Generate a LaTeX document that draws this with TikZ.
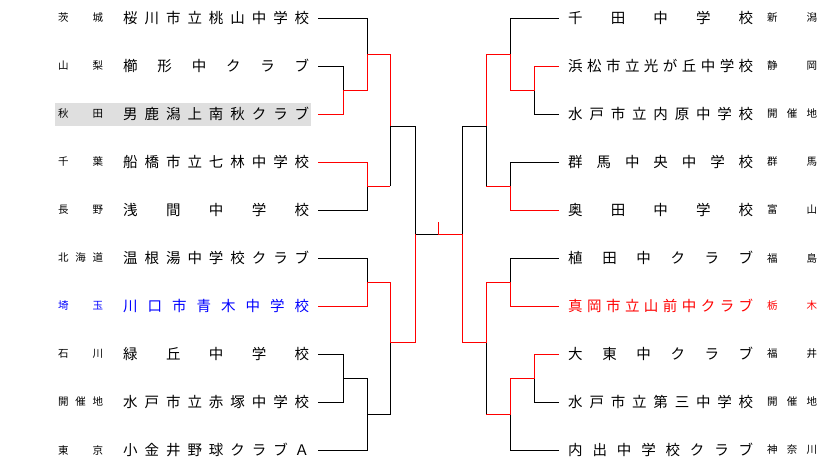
\documentclass[tikz,border=0pt]{standalone}
\usepackage{fontspec}
\setmainfont{Noto Sans CJK JP}
\usetikzlibrary{positioning}

\tikzset{
  pref/.style={anchor=west, inner sep=0pt, font=\fontsize{10.5}{12}\selectfont},
  team/.style={anchor=west, inner sep=0pt, font=\fontsize{14.5}{16}\selectfont},
  lose/.style={black, line width=0.9pt},
  win/.style={red, line width=0.9pt}
}
\newcommand{\spr}[2]{\makebox[#1][s]{#2}}

\begin{document}
\begin{tikzpicture}[x=1pt, y=-1pt]
\useasboundingbox (0,0) rectangle (827,466);

% Highlight row
\fill[gray!25] (55,103) rectangle (311,126);

% Left teams
\foreach \n/\p/\t/\c in {
  1/茨 城/桜 川 市 立 桃 山 中 学 校/black,
  2/山 梨/櫛 形 中 ク ラ ブ/black,
  3/秋 田/男 鹿 潟 上 南 秋 ク ラ ブ/black,
  4/千 葉/船 橋 市 立 七 林 中 学 校/black,
  5/長 野/浅 間 中 学 校/black,
  6/北 海 道/温 根 湯 中 学 校 ク ラ ブ/black,
  7/埼 玉/川 口 市 青 木 中 学 校/blue,
  8/石 川/緑 丘 中 学 校/black,
  9/開 催 地/水 戸 市 立 赤 塚 中 学 校/black,
  10/東 京/小 金 井 野 球 ク ラ ブ Ａ/black}
{
  \node[pref, text=\c] (lp\n) at (58,{18+48*(\n-1)}) {\spr{45pt}{\p}};
  \node[team, text=\c] (lt\n) at (123,{18+48*(\n-1)}) {\spr{186pt}{\t}};
}

% Right teams
\foreach \n/\p/\t/\c in {
  1/新 潟/千 田 中 学 校/black,
  2/静 岡/浜 松 市 立 光 が 丘 中 学 校/black,
  3/開 催 地/水 戸 市 立 内 原 中 学 校/black,
  4/群 馬/群 馬 中 央 中 学 校/black,
  5/富 山/奥 田 中 学 校/black,
  6/福 島/植 田 中 ク ラ ブ/black,
  7/栃 木/真 岡 市 立 山 前 中 ク ラ ブ/red,
  8/福 井/大 東 中 ク ラ ブ/black,
  9/開 催 地/水 戸 市 立 第 三 中 学 校/black,
  10/神 奈 川/内 出 中 学 校 ク ラ ブ/black}
{
  \node[team, text=\c] (rt\n) at (568,{18+48*(\n-1)}) {\spr{185pt}{\t}};
  \node[pref, text=\c] (rp\n) at (767,{18+48*(\n-1)}) {\spr{50pt}{\p}};
}

% Left bracket
\draw[lose] (318,18) -- (367,18) -- (367,54);
\draw[lose] (318,66) -- (343,66) -- (343,90);
\draw[lose] (318,210) -- (367,210) -- (367,186);
\draw[lose] (390,186) -- (390,126) -- (415,126) -- (415,234) -- (438,234);
\draw[lose] (318,258) -- (367,258) -- (367,282);
\draw[lose] (318,354) -- (343,354) -- (343,402) -- (318,402);
\draw[lose] (343,378) -- (367,378) -- (367,450) -- (318,450);
\draw[lose] (367,414) -- (390,414) -- (390,342);
\draw[win] (318,114) -- (343,114) -- (343,90) -- (367,90) -- (367,54) -- (390,54) -- (390,126);
\draw[win] (318,162) -- (367,162) -- (367,186) -- (390,186);
\draw[win] (318,306) -- (367,306) -- (367,282) -- (390,282) -- (390,342) -- (415,342) -- (415,234);

% Final
\draw[win] (438,222) -- (438,234) -- (462,234);

% Right bracket
\draw[lose] (559,18) -- (510,18) -- (510,54);
\draw[lose] (559,114) -- (534,114) -- (534,90);
\draw[lose] (559,162) -- (510,162) -- (510,186);
\draw[lose] (486,186) -- (486,126) -- (462,126) -- (462,234);
\draw[lose] (559,258) -- (510,258) -- (510,282);
\draw[lose] (559,402) -- (534,402) -- (534,378);
\draw[lose] (559,450) -- (510,450) -- (510,414);
\draw[lose] (486,342) -- (486,414);
\draw[win] (559,66) -- (534,66) -- (534,90) -- (510,90) -- (510,54) -- (486,54) -- (486,126);
\draw[win] (559,210) -- (510,210) -- (510,186) -- (486,186);
\draw[win] (462,234) -- (462,342) -- (486,342) -- (486,282) -- (510,282) -- (510,306) -- (559,306);
\draw[win] (559,354) -- (534,354) -- (534,378) -- (510,378) -- (510,414) -- (486,414);

\end{tikzpicture}
\end{document}
